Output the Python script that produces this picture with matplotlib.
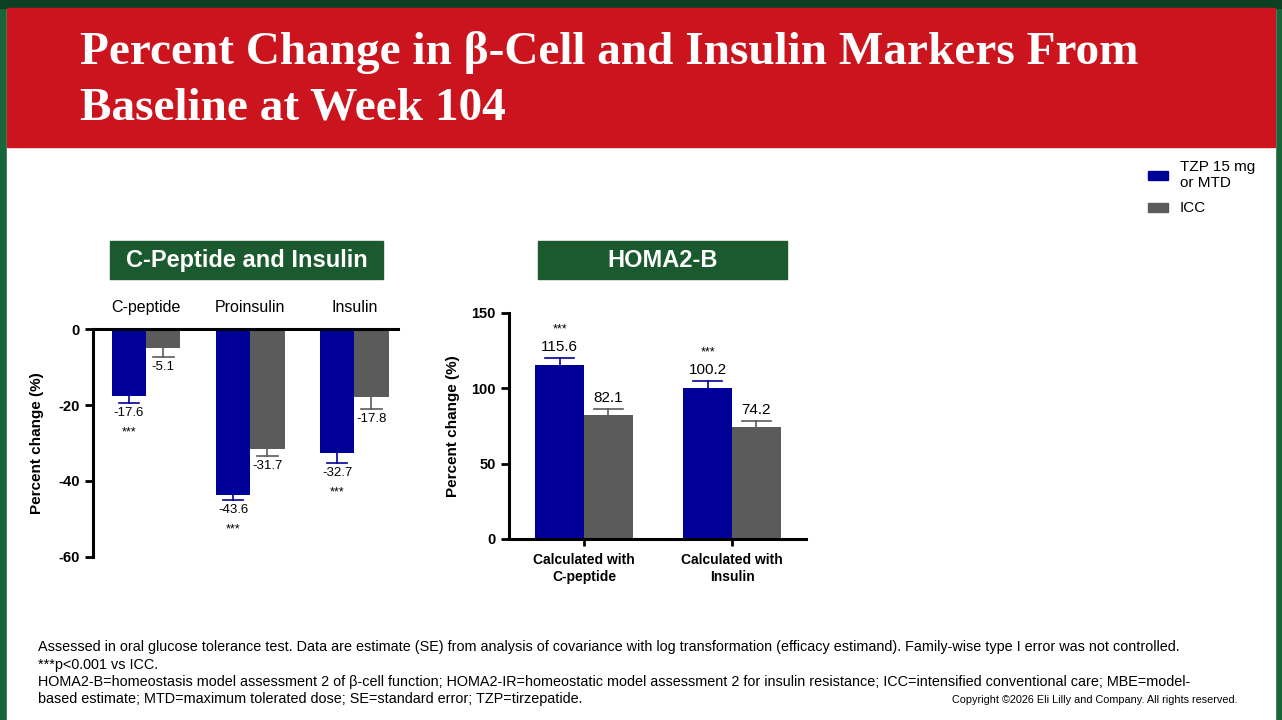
import numpy as np
import matplotlib.pyplot as plt
from matplotlib.patches import Rectangle

# data
cp_groups = ['C-peptide', 'Proinsulin', 'Insulin']
cp_tzp = [-17.6, -43.6, -32.7]
cp_tzp_se = [1.9, 1.4, 2.6]
cp_icc = [-5.1, -31.7, -17.8]
cp_icc_se = [2.3, 1.7, 3.2]
cp_sig = ['***', '***', '***']

homa_groups = ['Calculated with\nC-peptide', 'Calculated with\nInsulin']
homa_tzp = [115.6, 100.2]
homa_tzp_se = [4.7, 4.8]
homa_icc = [82.1, 74.2]
homa_icc_se = [4.2, 4.1]
homa_sig = ['***', '***']

BLUE = '#000099'
GRAY = '#5b5b5b'
RED = '#cc141e'
GREEN = '#1b5a2e'

plt.rcParams['font.family'] = ['Liberation Sans', 'DejaVu Sans']
plt.rcParams['axes.unicode_minus'] = False

fig = plt.figure(figsize=(12.82, 7.2), dpi=100)
fig.patch.set_facecolor('white')

# slide frame
fig.patches.append(Rectangle((0, 0), 1, 1, transform=fig.transFigure, color='#17663a', zorder=-3))
fig.patches.append(Rectangle((7/1282, 0), (1275-7)/1282, 1-8/720, transform=fig.transFigure,
                             color='white', zorder=-2))
fig.patches.append(Rectangle((0, 1-8/720), 1, 8/720, transform=fig.transFigure, color='#0d3f22', zorder=-2))
fig.patches.append(Rectangle((7/1282, 1-147/720), (1275-7)/1282, (147-8)/720, transform=fig.transFigure,
                             color=RED, zorder=-1))
fig.text(80/1282, 1-53/720, 'Percent Change in β-Cell and Insulin Markers From', color='white',
         fontsize=34, fontweight='bold', family=['Liberation Serif', 'DejaVu Serif'], va='center')
fig.text(80/1282, 1-108/720, 'Baseline at Week 104', color='white',
         fontsize=34, fontweight='bold', family=['Liberation Serif', 'DejaVu Serif'], va='center')

# panel headers
for (x0, x1, txt) in [(110, 383, 'C-Peptide and Insulin'), (538, 787, 'HOMA2-B')]:
    fig.patches.append(Rectangle((x0/1282, 1-279/720), (x1-x0)/1282, 38/720, transform=fig.transFigure,
                                 color=GREEN, zorder=-1))
    fig.text((x0+x1)/2/1282, 1-260/720, txt, color='white', fontsize=17, fontweight='bold',
             ha='center', va='center')

w = 0.33

# left panel
ax1 = fig.add_axes([93/1282, 1-557/720, 305/1282, 228/720])
ax1.set_facecolor('none')
x = np.arange(len(cp_groups))
ax1.bar(x - w/2, cp_tzp, w, color=BLUE, zorder=2)
ax1.bar(x + w/2, cp_icc, w, color=GRAY, zorder=2)
for i in range(len(x)):
    for xi, v, se, c in [(x[i] - w/2, cp_tzp[i], cp_tzp_se[i], BLUE), (x[i] + w/2, cp_icc[i], cp_icc_se[i], GRAY)]:
        ax1.plot([xi, xi], [v, v - se], color=c, lw=1.2, zorder=3)
        ax1.plot([xi - w*0.3, xi + w*0.3], [v - se, v - se], color=c, lw=1.2, zorder=3)
        ax1.annotate(f'{v:.1f}', (xi, v - se), xytext=(0, -3), textcoords='offset points',
                     ha='center', va='top', fontsize=9.5)
    ax1.annotate(cp_sig[i], (x[i] - w/2, cp_tzp[i] - cp_tzp_se[i]), xytext=(0, -17),
                 textcoords='offset points', ha='center', va='top', fontsize=9)
ax1.set_xlim(-0.51, 2.42)
ax1.set_ylim(-60, 0)
ax1.set_yticks([0, -20, -40, -60])
ax1.xaxis.tick_top()
ax1.set_xticks(x)
ax1.set_xticklabels(cp_groups, fontsize=11.5)
ax1.tick_params(axis='x', length=0, pad=10)
ax1.tick_params(axis='y', width=2, length=6, labelsize=10.5)
for lbl in ax1.get_yticklabels():
    lbl.set_fontweight('bold')
for s in ['right', 'bottom']:
    ax1.spines[s].set_visible(False)
for s in ['left', 'top']:
    ax1.spines[s].set_linewidth(2.2)
ax1.set_ylabel('Percent change (%)', fontsize=11, fontweight='bold', labelpad=10)

# right panel
ax2 = fig.add_axes([509/1282, 1-539/720, 297/1282, 226/720])
ax2.set_facecolor('none')
x2 = np.arange(len(homa_groups))
ax2.bar(x2 - w/2, homa_tzp, 0.335, color=BLUE, zorder=2)
ax2.bar(x2 + w/2, homa_icc, 0.335, color=GRAY, zorder=2)
for i in range(len(x2)):
    for xi, v, se, c in [(x2[i] - w/2, homa_tzp[i], homa_tzp_se[i], BLUE), (x2[i] + w/2, homa_icc[i], homa_icc_se[i], GRAY)]:
        ax2.plot([xi, xi], [v, v + se], color=c, lw=1.2, zorder=3)
        ax2.plot([xi - w*0.3, xi + w*0.3], [v + se, v + se], color=c, lw=1.2, zorder=3)
        ax2.annotate(f'{v:.1f}', (xi, v + se), xytext=(0, 3), textcoords='offset points',
                     ha='center', va='bottom', fontsize=11)
    ax2.annotate(homa_sig[i], (x2[i] - w/2, homa_tzp[i] + homa_tzp_se[i]), xytext=(0, 16),
                 textcoords='offset points', ha='center', va='bottom', fontsize=9)
ax2.set_xlim(-0.507, 1.5)
ax2.set_ylim(0, 150)
ax2.set_yticks([0, 50, 100, 150])
ax2.set_xticks(x2)
ax2.set_xticklabels(homa_groups, fontsize=10, fontweight='bold', linespacing=1.3)
ax2.tick_params(axis='x', width=2, length=5, pad=5)
ax2.tick_params(axis='y', width=2, length=6, labelsize=10.5)
for lbl in ax2.get_yticklabels():
    lbl.set_fontweight('bold')
for s in ['right', 'top']:
    ax2.spines[s].set_visible(False)
for s in ['left', 'bottom']:
    ax2.spines[s].set_linewidth(2.2)
ax2.set_ylabel('Percent change (%)', fontsize=11, fontweight='bold', labelpad=8)

# legend
for yy, c, t in [(175, BLUE, 'TZP 15 mg\nor MTD'), (208, GRAY, 'ICC')]:
    fig.patches.append(Rectangle((1148/1282, 1-(yy+4.5)/720), 20/1282, 9/720, transform=fig.transFigure,
                                 color=c))
    fig.text(1180/1282, 1-yy/720, t, fontsize=11, va='center', ha='left', linespacing=1.25)

# footnotes
notes = ['Assessed in oral glucose tolerance test. Data are estimate (SE) from analysis of covariance with log transformation (efficacy estimand). Family-wise type I error was not controlled.',
         '***p<0.001 vs ICC.',
         'HOMA2-B=homeostasis model assessment 2 of β-cell function; HOMA2-IR=homeostatic model assessment 2 for insulin resistance; ICC=intensified conventional care; MBE=model-',
         'based estimate; MTD=maximum tolerated dose; SE=standard error; TZP=tirzepatide.']
for k, t in enumerate(notes):
    fig.text(38/1282, 1-(647 + 17.5*k)/720, t, fontsize=10.4, va='center', ha='left')
fig.text(1238/1282, 1-700/720, 'Copyright ©2026 Eli Lilly and Company. All rights reserved.',
         fontsize=7.8, va='center', ha='right')

fig.savefig('out.png', dpi=100, facecolor=fig.get_facecolor())
